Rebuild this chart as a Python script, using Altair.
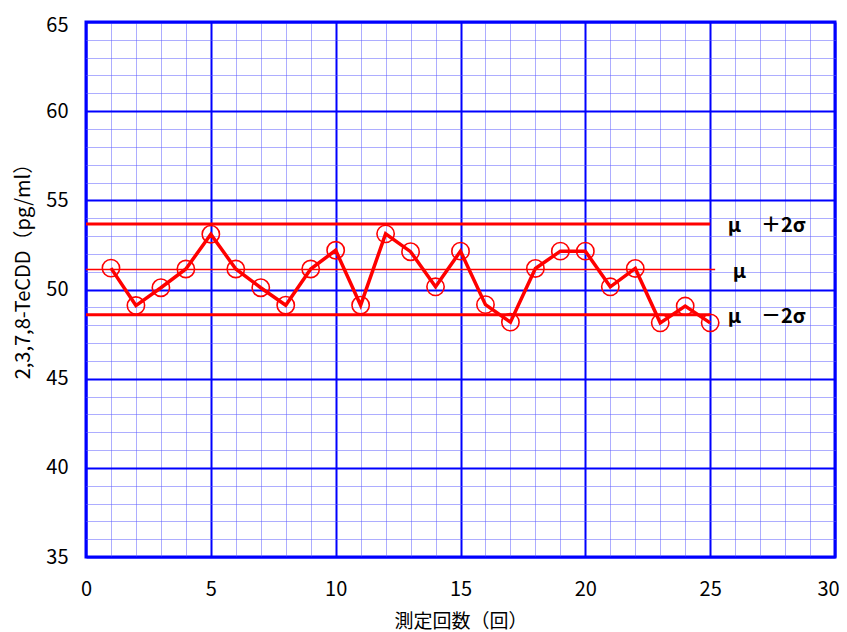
import altair as alt
import pandas as pd

# ---- data ----
measure_no = list(range(1, 26))
tecdd = [51.2, 49.1, 50.1, 51.15, 53.1, 51.15, 50.1, 49.12, 51.15, 52.2,
         49.12, 53.12, 52.12, 50.15, 52.15, 49.15, 48.17, 51.18, 52.15, 52.15,
         50.15, 51.18, 48.13, 49.07, 48.13]

ref_labels = ["μ　＋2σ", "μ", "μ　－2σ"]
ref_levels = [53.67, 51.12, 48.58]
ref_ends = [25.0, 25.2, 25.0]

x_title = "測定回数（回）"
y_title = "2,3,7,8-TeCDD（pg/ml）"
x_ticks = list(range(0, 31))
y_ticks = list(range(35, 66))

FONT = "Noto Sans CJK JP"
RED = "#ff0000"

df = pd.DataFrame({"n": measure_no, "v": tecdd})
ref = pd.DataFrame({"label": ref_labels, "level": ref_levels,
                    "start": [0] * len(ref_levels), "end": ref_ends})

x_scale = alt.Scale(domain=[0, 30], nice=False, zero=False)
y_scale = alt.Scale(domain=[35, 65], nice=False, zero=False)

grid_color = {"condition": {"test": "datum.value % 5 === 0", "value": "#0000ff"},
              "value": "#5a5aff"}
grid_width = {"condition": {"test": "datum.value % 5 === 0", "value": 2},
              "value": 1}
grid_dash = {"condition": {"test": "datum.value % 5 === 0", "value": []},
             "value": [1, 1]}

x_axis = alt.Axis(values=x_ticks, tickCount=100, format="d", title=x_title,
                  grid=True, gridColor=grid_color, gridWidth=grid_width,
                  gridDash=grid_dash,
                  labelExpr="datum.value % 5 === 0 ? datum.label : ''",
                  labelOffset={"condition": {"test": "datum.value === 30",
                                             "value": -7}, "value": 0},
                  labelOverlap=False, labelFlush=False, ticks=False, tickSize=0,
                  domain=False,
                  labelFont=FONT, labelFontSize=20, labelColor="#000000",
                  labelPadding=22,
                  titleFont=FONT, titleFontSize=19, titleFontWeight="normal",
                  titleColor="#000000", titleY=64, titleBaseline="middle")
y_axis = alt.Axis(values=y_ticks, tickCount=100, format="d", title=y_title,
                  grid=True, gridColor=grid_color, gridWidth=grid_width,
                  gridDash=grid_dash,
                  labelExpr="datum.value % 5 === 0 ? datum.label : ''",
                  labelOffset={"condition": {"test": "datum.value === 65",
                                             "value": 3}, "value": 0},
                  labelOverlap=False, labelFlush=False, ticks=False, tickSize=0,
                  domain=False,
                  labelFont=FONT, labelFontSize=20, labelColor="#000000",
                  labelPadding=18,
                  titleFont=FONT, titleFontSize=20, titleFontWeight="normal",
                  titleColor="#000000", titleX=-63, titleY=244,
                  titleBaseline="middle")

base = alt.Chart(df)

line = base.mark_line(color=RED, strokeWidth=3.5).encode(
    x=alt.X("n:Q", scale=x_scale, axis=x_axis),
    y=alt.Y("v:Q", scale=y_scale, axis=y_axis),
)
points = base.mark_point(shape="circle", filled=False, color=RED,
                         size=300, strokeWidth=1.6, opacity=1).encode(
    x=alt.X("n:Q", scale=x_scale),
    y=alt.Y("v:Q", scale=y_scale),
)

ref_base = alt.Chart(ref)
sigma_rules = ref_base.transform_filter("datum.label !== 'μ'").mark_rule(
    color=RED, strokeWidth=3).encode(
    x=alt.X("start:Q", scale=x_scale),
    x2="end:Q",
    y=alt.Y("level:Q", scale=y_scale),
)
mu_rule = ref_base.transform_filter("datum.label === 'μ'").mark_rule(
    color=RED, strokeWidth=1.5).encode(
    x=alt.X("start:Q", scale=x_scale),
    x2="end:Q",
    y=alt.Y("level:Q", scale=y_scale),
)
sigma_text = ref_base.transform_filter("datum.label !== 'μ'").mark_text(
    align="left", baseline="middle", font=FONT, fontSize=20,
    fontWeight="bold", color="#000000", dy=2).encode(
    x=alt.datum(25.7, scale=x_scale),
    y=alt.Y("level:Q", scale=y_scale),
    text="label:N",
)
mu_text = ref_base.transform_filter("datum.label === 'μ'").mark_text(
    align="left", baseline="middle", font=FONT, fontSize=20,
    fontWeight="bold", color="#000000", dx=5, dy=2).encode(
    x=alt.datum(25.7, scale=x_scale),
    y=alt.Y("level:Q", scale=y_scale),
    text="label:N",
)

chart = alt.layer(line, sigma_rules, mu_rule, points, sigma_text,
                  mu_text).properties(
    width=749, height=535,
    autosize=alt.AutoSizeParams(type="none"),
    padding={"left": 78, "top": 14, "right": 4, "bottom": 76},
    background="#ffffff",
).configure_view(stroke="#0000ff", strokeWidth=3)

chart.save("out.html", embed_options={"renderer": "svg", "actions": False})
